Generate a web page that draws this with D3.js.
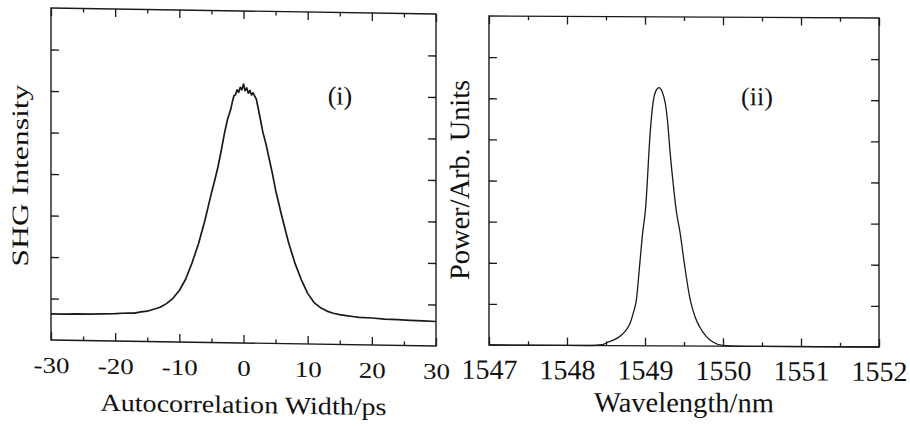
<!DOCTYPE html>
<html>
<head>
<meta charset="utf-8">
<script src="https://cdn.jsdelivr.net/npm/d3@7"></script>
<style>
  html, body { margin: 0; padding: 0; background: #fff; }
  svg { display: block; }
  text { font-family: "Liberation Serif", "Times New Roman", serif; fill: #111; }
</style>
</head>
<body>
<svg id="chart" width="910" height="426"></svg>
<script>
// Panel (i): SHG autocorrelation trace
const acDelay = [-30, -28, -26, -24, -22, -20, -18, -17, -16, -15, -14, -13, -12, -11, -10,
  -9, -8, -7, -6, -5, -4.5, -4, -3.5, -3, -2.5, -2, -1.75, -1.5, -1.25, -1, -0.75, -0.5, -0.25,
  0, 0.25, 0.5, 0.75, 1, 1.25, 1.5, 1.75, 2, 2.5, 3, 3.5, 4, 4.5, 5, 6, 7, 8, 9, 10, 11, 12,
  13, 14, 15, 16, 17, 18, 20, 22, 24, 26, 28, 30];
const acSignal = [0.63, 0.63, 0.64, 0.64, 0.65, 0.66, 0.68, 0.68, 0.71, 0.73, 0.78, 0.83, 0.92, 1.05, 1.24,
  1.52, 1.92, 2.38, 2.95, 3.6, 3.9, 4.22, 4.6, 5.02, 5.38, 5.62, 5.8, 5.95, 5.98, 6.1, 6.04, 6.16, 6.1,
  6.24, 6.08, 6.15, 6.02, 6.09, 5.98, 6.03, 5.95, 5.88, 5.5, 5.1, 4.8, 4.45, 4.1, 3.7, 3.05, 2.45, 1.95, 1.55, 1.22, 1.0, 0.88,
  0.8, 0.75, 0.72, 0.7, 0.68, 0.66, 0.65, 0.63, 0.62, 0.61, 0.6, 0.59];
const acTicks = [-30, -20, -10, 0, 10, 20, 30];
const acMinorTicks = [-25, -15, -5, 5, 15, 25];

// Panel (ii): optical spectrum
const wavelength = [1547, 1548, 1548.3, 1548.45, 1548.51, 1548.6, 1548.68, 1548.75, 1548.81, 1548.85,
  1548.89, 1548.93, 1548.97, 1549.01, 1549.03, 1549.05, 1549.08, 1549.11, 1549.14, 1549.18, 1549.22,
  1549.26, 1549.29, 1549.32, 1549.36, 1549.4, 1549.45, 1549.51, 1549.58, 1549.64, 1549.7, 1549.78,
  1549.87, 1550.0, 1550.3, 1552];
const power = [0, 0, 0, 0.02, 0.07, 0.14, 0.23, 0.36, 0.55, 0.8,
  1.12, 1.93, 2.75, 3.4, 4.0, 4.7, 5.5, 6.0, 6.2, 6.28, 6.18,
  5.9, 5.45, 4.75, 3.97, 3.3, 2.75, 1.93, 1.12, 0.72, 0.47, 0.25,
  0.1, 0.02, 0, 0];
const wlTicks = [1547, 1548, 1549, 1550, 1551, 1552];
const wlMinorTicks = [1547.5, 1548.5, 1549.5, 1550.5, 1551.5];
const levelTicks = [1, 2, 3, 4, 5, 6, 7];

const svg = d3.select("#chart");
const ink = "#1a1a1a";

// widen a text element horizontally by a factor
function stretch(sel, factor) {
  sel.each(function () {
    const w = this.getComputedTextLength();
    d3.select(this).attr("textLength", w * factor).attr("lengthAdjust", "spacingAndGlyphs");
  });
}

function drawPanel(cfg) {
  const { left, right, top, bottom, skew, xDomain, xs, ys, majors, minors,
          tickFont, tickStretch, tickPad,
          xTitle, xTitleFont, xTitleLen, xTitleY,
          yTitle, yTitleFont, yTitleLen, yTitleX, yTitleY,
          tag, tagX, tagY, lineWidth, curve } = cfg;
  const cx = (left + right) / 2;
  const g = svg.append("g")
    .attr("transform", `matrix(1,${skew},0,1,0,${-skew * cx})`);

  const x = d3.scaleLinear().domain(xDomain).range([left, right]);
  const y = d3.scaleLinear().domain([0, 8]).range([bottom, top]);

  // frame
  g.append("rect")
    .attr("x", left).attr("y", top)
    .attr("width", right - left).attr("height", bottom - top)
    .attr("fill", "none").attr("stroke", ink).attr("stroke-width", 1.4);

  const styleAxis = sel => {
    sel.select(".domain").remove();
    sel.selectAll(".tick line").attr("stroke", ink).attr("stroke-width", 1.3);
    sel.selectAll(".tick text").attr("font-size", tickFont).attr("fill", "#111")
      .style("font-family", "'Liberation Serif', 'Times New Roman', serif");
  };

  const bottomAxis = g.append("g").attr("transform", `translate(0,${bottom})`)
    .call(d3.axisBottom(x).tickValues(majors).tickSize(-8).tickPadding(tickPad)
      .tickFormat(d => String(d)))
    .call(styleAxis);
  if (tickStretch !== 1) stretch(bottomAxis.selectAll(".tick text"), tickStretch);

  g.append("g").attr("transform", `translate(0,${bottom})`)
    .call(d3.axisBottom(x).tickValues(minors).tickSize(-4).tickFormat(""))
    .call(styleAxis);
  g.append("g").attr("transform", `translate(0,${top})`)
    .call(d3.axisTop(x).tickValues(majors).tickSize(-8).tickFormat(""))
    .call(styleAxis);
  g.append("g").attr("transform", `translate(0,${top})`)
    .call(d3.axisTop(x).tickValues(minors).tickSize(-4).tickFormat(""))
    .call(styleAxis);
  g.append("g").attr("transform", `translate(${left},0)`)
    .call(d3.axisLeft(y).tickValues(levelTicks).tickSize(-8).tickFormat(""))
    .call(styleAxis);
  g.append("g").attr("transform", `translate(${right},0)`)
    .call(d3.axisRight(y).tickValues(levelTicks).tickSize(-8).tickFormat(""))
    .call(styleAxis);

  const pts = xs.map((v, i) => [v, ys[i]]);
  g.append("path")
    .datum(pts)
    .attr("fill", "none")
    .attr("stroke", ink)
    .attr("stroke-width", lineWidth)
    .attr("stroke-linejoin", "round")
    .attr("d", d3.line().x(d => x(d[0])).y(d => y(d[1])).curve(curve));

  g.append("text")
    .attr("x", cx).attr("y", xTitleY)
    .attr("text-anchor", "middle").attr("font-size", xTitleFont)
    .attr("textLength", xTitleLen).attr("lengthAdjust", "spacingAndGlyphs")
    .text(xTitle);

  g.append("text")
    .attr("transform", `translate(${yTitleX},${yTitleY}) rotate(-90)`)
    .attr("text-anchor", "middle").attr("font-size", yTitleFont)
    .attr("textLength", yTitleLen).attr("lengthAdjust", "spacingAndGlyphs")
    .text(yTitle);

  g.append("text")
    .attr("x", tagX).attr("y", tagY)
    .attr("text-anchor", "middle").attr("font-size", 26)
    .text(tag);
}

drawPanel({
  left: 51, right: 436, top: 11, bottom: 343, skew: 6 / 385,
  xDomain: [-30, 30], xs: acDelay, ys: acSignal,
  majors: acTicks, minors: acMinorTicks,
  tickFont: 22.5, tickStretch: 1.2, tickPad: 17,
  xTitle: "Autocorrelation Width/ps", xTitleFont: 24.5, xTitleLen: 286, xTitleY: 413,
  yTitle: "SHG Intensity", yTitleFont: 23.5, yTitleLen: 182, yTitleX: 28, yTitleY: 179,
  tag: "(i)", tagX: 340, tagY: 103, lineWidth: 1.7, curve: d3.curveLinear
});

drawPanel({
  left: 489, right: 879, top: 17, bottom: 346, skew: 2 / 390,
  xDomain: [1547, 1552], xs: wavelength, ys: power,
  majors: wlTicks, minors: wlMinorTicks,
  tickFont: 28, tickStretch: 1, tickPad: 14,
  xTitle: "Wavelength/nm", xTitleFont: 28, xTitleLen: 180, xTitleY: 412,
  yTitle: "Power/Arb. Units", yTitleFont: 28, yTitleLen: 200, yTitleX: 469, yTitleY: 181,
  tag: "(ii)", tagX: 757, tagY: 105, lineWidth: 1.3, curve: d3.curveMonotoneX
});
</script>
</body>
</html>
